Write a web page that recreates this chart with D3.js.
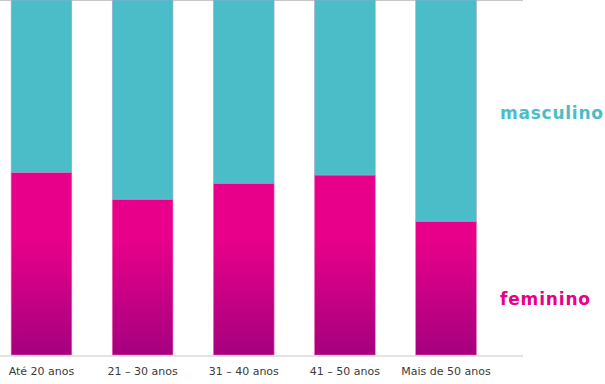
<!DOCTYPE html>
<html>
<head>
<meta charset="utf-8">
<script src="https://cdn.jsdelivr.net/npm/d3@7"></script>
<style>
  html, body { margin: 0; padding: 0; background: #fff; }
  svg { display: block; }
</style>
</head>
<body>
<svg id="chart" width="605" height="384"></svg>
<script>
const categories = ["Até 20 anos", "21 – 30 anos", "31 – 40 anos", "41 – 50 anos", "Mais de 50 anos"];
const feminino = [51.5, 43.9, 48.4, 50.7, 37.7];
const masculino = [48.5, 56.1, 51.6, 49.3, 62.3];
const seriesNames = ["feminino", "masculino"];
const seriesLabels = ["feminino", "masculino"];

const svg = d3.select("#chart");
const W = 605, H = 384;
const plotBottom = 355, plotTop = 0;

const x = d3.scaleBand().domain(categories).range([0, 487.5]).paddingInner(0.4).paddingOuter(0.11);
const y = d3.scaleLinear().domain([0, 100]).range([plotBottom, plotTop]);

const rows = categories.map((c, i) => ({ cat: c, feminino: feminino[i], masculino: masculino[i] }));
const stack = d3.stack().keys(seriesNames);
const stacked = stack(rows);

const defs = svg.append("defs");
const grad = defs.append("linearGradient")
  .attr("id", "femGrad")
  .attr("gradientUnits", "userSpaceOnUse")
  .attr("x1", 0).attr("x2", 0)
  .attr("y1", 240).attr("y2", plotBottom);
grad.append("stop").attr("offset", "0%").attr("stop-color", "#e8008a");
grad.append("stop").attr("offset", "100%").attr("stop-color", "#a5007f");

const fills = { feminino: "url(#femGrad)", masculino: "#4abdc9" };
const strokes = { feminino: "#f06ab4", masculino: "#a3a8cf" };

// top line
svg.append("line")
  .attr("x1", 0).attr("x2", 523)
  .attr("y1", 0.5).attr("y2", 0.5)
  .attr("stroke", "#c8c8c8").attr("stroke-width", 1);

stacked.forEach(s => {
  svg.append("g").selectAll("rect")
    .data(s)
    .join("rect")
    .attr("x", d => x(d.data.cat))
    .attr("width", x.bandwidth())
    .attr("y", d => y(d[1]))
    .attr("height", d => y(d[0]) - y(d[1]))
    .attr("fill", fills[s.key])
    .attr("stroke", strokes[s.key])
    .attr("stroke-width", 0.6);
});

// baseline
svg.append("line")
  .attr("x1", 0).attr("x2", 523)
  .attr("y1", 356).attr("y2", 356)
  .attr("stroke", "#c8c8c8").attr("stroke-width", 1.2);

// x labels
const xAxis = d3.axisBottom(x).tickSize(0).tickPadding(0);
const gx = svg.append("g").attr("transform", `translate(0, 367)`).call(xAxis);
gx.select(".domain").remove();
gx.selectAll("text")
  .attr("dy", "0.71em")
  .attr("fill", "#3a3a3a")
  .style("font-family", "DejaVu Sans, sans-serif")
  .style("font-size", "11px");

// legend labels
svg.append("text")
  .attr("x", 500).attr("y", 119)
  .attr("fill", "#4abdc9")
  .style("font-family", "DejaVu Sans, sans-serif")
  .style("font-weight", "bold")
  .style("font-size", "17px")
  .attr("textLength", 103)
  .text(seriesLabels[1]);

svg.append("text")
  .attr("x", 500).attr("y", 305)
  .attr("fill", "#e8008a")
  .style("font-family", "DejaVu Sans, sans-serif")
  .style("font-weight", "bold")
  .style("font-size", "17px")
  .attr("textLength", 90)
  .text(seriesLabels[0]);
</script>
</body>
</html>
